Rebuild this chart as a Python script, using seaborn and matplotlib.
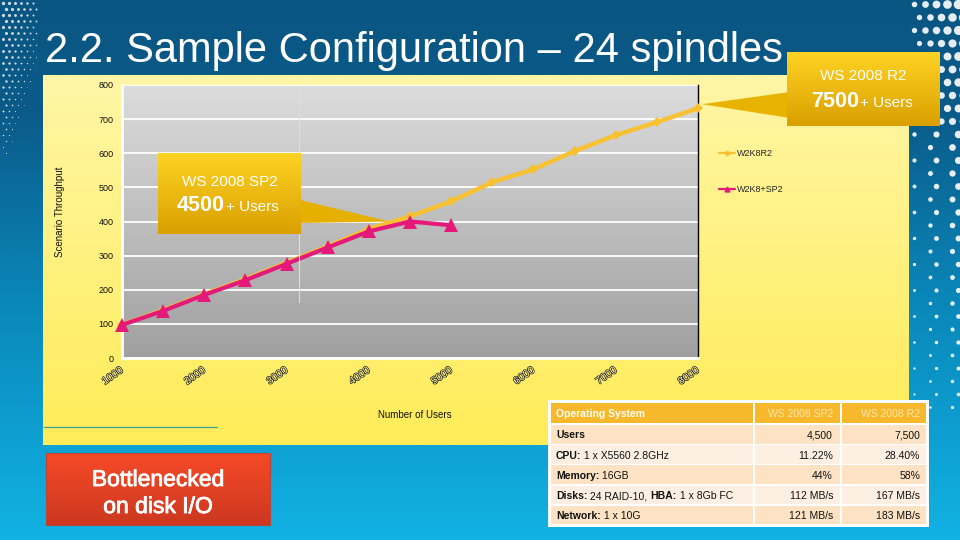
import numpy as np
import pandas as pd
import matplotlib
matplotlib.use("Agg")
import matplotlib.pyplot as plt
import matplotlib.patheffects as pe
from matplotlib.colors import LinearSegmentedColormap
from matplotlib.patches import Rectangle, Polygon
from matplotlib.lines import Line2D
import seaborn as sns

# ========================
# DATA
# ========================
users_r2  = [1000, 1500, 2000, 2500, 3000, 3500, 4000, 4500,
             5000, 5500, 6000, 6500, 7000, 7500, 8000]
tp_r2     = [98, 140, 187, 231, 279, 327, 378, 415,
             459, 515, 553, 606, 653, 691, 732]
users_sp2 = [1000, 1500, 2000, 2500, 3000, 3500, 4000, 4500, 5000]
tp_sp2    = [97, 138, 185, 228, 276, 324, 371, 400, 389]

series_names  = ["W2K8R2", "W2K8+SP2"]
series_colors = ["#f7c132", "#e4197a"]

y_ticks = [0, 100, 200, 300, 400, 500, 600, 700, 800]
x_major = [1000, 2000, 3000, 4000, 5000, 6000, 7000, 8000]

title_text = "2.2. Sample Configuration – 24 spindles"

table_header = ["Operating System", "WS 2008 SP2", "WS 2008 R2"]
# (text, weight) pieces for each row label
row_labels = [[("Users", "bold")],
              [("CPU:", "bold"), (" 1 x X5560 2.8GHz", "normal")],
              [("Memory:", "bold"), (" 16GB", "normal")],
              [("Disks:", "bold"), (" 24 RAID-10, ", "normal"),
               ("HBA:", "bold"), (" 1 x 8Gb FC", "normal")],
              [("Network:", "bold"), (" 1 x 10G", "normal")]]
col_sp2 = ["4,500", "11.22%", "44%", "112 MB/s", "121 MB/s"]
col_r2  = ["7,500", "28.40%", "58%", "167 MB/s", "183 MB/s"]

df = pd.concat([
    pd.DataFrame({"users": users_r2, "tp": tp_r2, "series": series_names[0]}),
    pd.DataFrame({"users": users_sp2, "tp": tp_sp2, "series": series_names[1]}),
])

# ========================
# STYLE
# ========================
sns.set_theme(style="white")
plt.rcParams["font.family"] = ["Liberation Sans", "DejaVu Sans"]

W, H = 960, 540
fig = plt.figure(figsize=(9.6, 5.4), dpi=100)


def vgrad(axis, extent, top, bottom, zorder=0, transform=None):
    cmap = LinearSegmentedColormap.from_list("g", [top, bottom])
    arr = np.linspace(0, 1, 256).reshape(-1, 1)
    kw = {} if transform is None else {"transform": transform}
    axis.imshow(arr, cmap=cmap, extent=extent, aspect="auto",
                zorder=zorder, interpolation="bilinear", **kw)


# ========================
# SLIDE BACKGROUND (pixel coords, y down)
# ========================
bg = fig.add_axes([0, 0, 1, 1], zorder=0)
bg.axis("off")
cmap_bg = LinearSegmentedColormap.from_list(
    "bg", [(0, "#0a5683"), (0.2, "#0a5a88"), (0.55, "#0a86b8"), (1, "#12b2e4")])
bg.imshow(np.linspace(0, 1, 256).reshape(-1, 1), cmap=cmap_bg,
          extent=(0, W, H, 0), aspect="auto", zorder=0)

# dotted decoration, right edge: big blobs on top, thinning out below
for i, xx in enumerate(np.arange(916, 965, 11)):
    for j, yy in enumerate(np.arange(4, 410, 13)):
        fade = max(0.0, 1 - yy / 420)
        s = (6 + 40 * fade ** 1.5) * (0.35 + 0.17 * i)
        if yy > 130 and (i + j) % 2 == 1:
            continue
        bg.scatter(xx + (j % 2) * 5 - 2, yy, s=s, color="white", alpha=0.9,
                   linewidths=0, zorder=1)
# top-left corner
for i, xx in enumerate(np.arange(3, 36, 6)):
    for j, yy in enumerate(np.arange(3, 155, 6)):
        s = max(0.0, 6 - j * 0.22 - i * 0.7)
        bg.scatter(xx + (j % 2) * 3, yy, s=s, color="white", alpha=0.8,
                   linewidths=0, zorder=1)

bg.text(45, 62, title_text, color="white", fontsize=30, ha="left",
        va="baseline", zorder=3)

# yellow chart area
vgrad(bg, (43, 909, 445, 75), "#fff6a6", "#ffec58", zorder=2)
bg.plot([44, 217], [427, 427], color="#3a9f98", lw=0.9, zorder=3)

bg.text(60, 212, "Scenario Throughput", rotation=90, fontsize=7,
        ha="center", va="center", color="#111111", zorder=3)
bg.text(415, 415, "Number of Users", fontsize=7, ha="center",
        va="center", color="#111111", zorder=3)

bg.set_xlim(0, W)
bg.set_ylim(H, 0)
bg.set_autoscale_on(False)

# ========================
# CHART
# ========================
x0, x1, y0, y1 = 122, 698, 85, 358
ax = fig.add_axes([x0 / W, 1 - y1 / H, (x1 - x0) / W, (y1 - y0) / H], zorder=2)
ax.set_facecolor("none")
vgrad(ax, (0, 1, 0, 1), "#dcdcdc", "#a0a0a0", zorder=0, transform=ax.transAxes)

sns.lineplot(data=df[df.series == series_names[0]], x="users", y="tp",
             color=series_colors[0], lw=3.2, marker="D", markersize=5,
             markeredgewidth=0, ax=ax, zorder=3, clip_on=False)
sns.lineplot(data=df[df.series == series_names[1]], x="users", y="tp",
             color=series_colors[1], lw=3.0, marker="^", markersize=10,
             markeredgewidth=0, ax=ax, zorder=4, clip_on=False)

ax.set_xlim(1000, 8000)
ax.set_ylim(0, 800)
ax.set_yticks(y_ticks)
ax.set_xticks(x_major)
ax.set_xticks(users_r2, minor=True)
ax.grid(axis="y", color="white", lw=1.3)
ax.grid(axis="x", visible=False)
ax.set_axisbelow(True)
ax.set_xlabel("")
ax.set_ylabel("")

ax.spines["top"].set_visible(False)
ax.spines["left"].set_color("white")
ax.spines["left"].set_linewidth(2)
ax.spines["bottom"].set_color("white")
ax.spines["bottom"].set_linewidth(2)
ax.spines["right"].set_color("black")
ax.spines["right"].set_linewidth(1)

ax.tick_params(axis="y", length=0, labelsize=6.5, pad=6, labelcolor="#111111")
ax.tick_params(axis="x", which="both", direction="in", length=3,
               color="white", width=1.2, labelsize=7.5, pad=8)
for lab in ax.get_xticklabels():
    lab.set_rotation(35)
    lab.set_ha("right")
    lab.set_va("center")
    lab.set_rotation_mode("anchor")
    lab.set_color("#fff3a0")
    lab.set_path_effects([pe.withStroke(linewidth=1.0, foreground="#222222")])

handles = [Line2D([], [], color=series_colors[0], lw=1.6, marker="D", markersize=2.5),
           Line2D([], [], color=series_colors[1], lw=1.6, marker="^", markersize=3.5)]
ax.legend(handles, series_names, loc="upper left",
          bbox_to_anchor=(719 / W, 1 - 149 / H), bbox_transform=fig.transFigure,
          frameon=False, fontsize=6.5, handlelength=1.8, handletextpad=0.2,
          labelspacing=3.0, borderpad=0, borderaxespad=0)

# ========================
# OVERLAY: callouts, table, red box
# ========================
ov = fig.add_axes([0, 0, 1, 1], zorder=5)
ov.axis("off")
ov.set_xlim(0, W)
ov.set_ylim(H, 0)
ov.set_autoscale_on(False)
renderer = fig.canvas.get_renderer()


def to_px(x, y):
    disp = ax.transData.transform((x, y))
    return ov.transData.inverted().transform(disp)


def seg_text(x, y, parts, **kw):
    for txt, wt in parts:
        t = ov.text(x, y, txt, fontweight=wt, **kw)
        x += t.get_window_extent(renderer=renderer).width


ov.plot([299, 299], [86, 302], color="#f3e38c", lw=0.8, zorder=1)

gold = ("#ffd324", "#d9a000")
# SP2 callout
tip = to_px(4250, max(tp_sp2))
ov.add_patch(Polygon([(300, 200), tip, (300, 223)], closed=True,
                     facecolor="#e6b000", edgecolor="none", zorder=2))
vgrad(ov, (158, 301, 234, 153), gold[0], gold[1], zorder=3)
ov.text(229.5, 186, "WS 2008 SP2", color="white", fontsize=11,
        ha="center", va="baseline", zorder=4)
ov.text(225, 211, "4500", color="white", fontsize=15.5, fontweight="bold",
        ha="right", va="baseline", zorder=4)
ov.text(226, 211, "+ Users", color="white", fontsize=11,
        ha="left", va="baseline", zorder=4)

# R2 callout
tip = to_px(users_r2[-1], tp_r2[-1])
ov.add_patch(Polygon([(790, 92), (tip[0] + 4, tip[1] - 4), (790, 118)], closed=True,
                     facecolor="#e8b200", edgecolor="none", zorder=2))
vgrad(ov, (787, 940, 126, 52), gold[0], gold[1], zorder=3)
ov.text(863, 80, "WS 2008 R2", color="white", fontsize=11,
        ha="center", va="baseline", zorder=4)
ov.text(859, 107, "7500", color="white", fontsize=15.5, fontweight="bold",
        ha="right", va="baseline", zorder=4)
ov.text(860, 107, "+ Users", color="white", fontsize=11,
        ha="left", va="baseline", zorder=4)

# red box
vgrad(ov, (46, 270, 525, 453), "#f64a28", "#cc3820", zorder=3)
ov.add_patch(Rectangle((46, 453), 224, 72, facecolor="none",
                       edgecolor="#b8443a", lw=0.8, zorder=4))
ov.text(158, 486, "Bottlenecked", color="white", fontsize=16.5,
        ha="center", va="baseline", zorder=5,
        path_effects=[pe.withStroke(linewidth=0.6, foreground="white")])
ov.text(158, 513, "on disk I/O", color="white", fontsize=16.5,
        ha="center", va="baseline", zorder=5,
        path_effects=[pe.withStroke(linewidth=0.6, foreground="white")])

# table
cols = [(551, 753), (755, 840), (842, 926)]
ov.add_patch(Rectangle((548, 400), 381, 127, facecolor="white",
                       edgecolor="none", zorder=3))
for a, b in cols:
    ov.add_patch(Rectangle((a, 403), b - a, 20, facecolor="#f8b82c",
                           edgecolor="none", zorder=4))
ov.text(556, 417, table_header[0], color="white", fontsize=7.5,
        fontweight="bold", ha="left", va="baseline", zorder=5)
ov.text(833, 417, table_header[1], color="#fde7ae", fontsize=7.5,
        ha="right", va="baseline", zorder=5)
ov.text(920, 417, table_header[2], color="#fde7ae", fontsize=7.5,
        ha="right", va="baseline", zorder=5)

for r in range(len(row_labels)):
    top = 425 + r * 20.2
    fc = "#fde3c4" if r % 2 == 0 else "#fdf0e2"
    for a, b in cols:
        ov.add_patch(Rectangle((a, top), b - a, 18.5, facecolor=fc,
                               edgecolor="none", zorder=4))
    base = top + 13.5
    seg_text(556, base, row_labels[r], color="#111111", fontsize=7.5,
             ha="left", va="baseline", zorder=5)
    ov.text(833, base, col_sp2[r], color="#111111", fontsize=7.5,
            ha="right", va="baseline", zorder=5)
    ov.text(920, base, col_r2[r], color="#111111", fontsize=7.5,
            ha="right", va="baseline", zorder=5)

fig.savefig("out.png", dpi=100)
